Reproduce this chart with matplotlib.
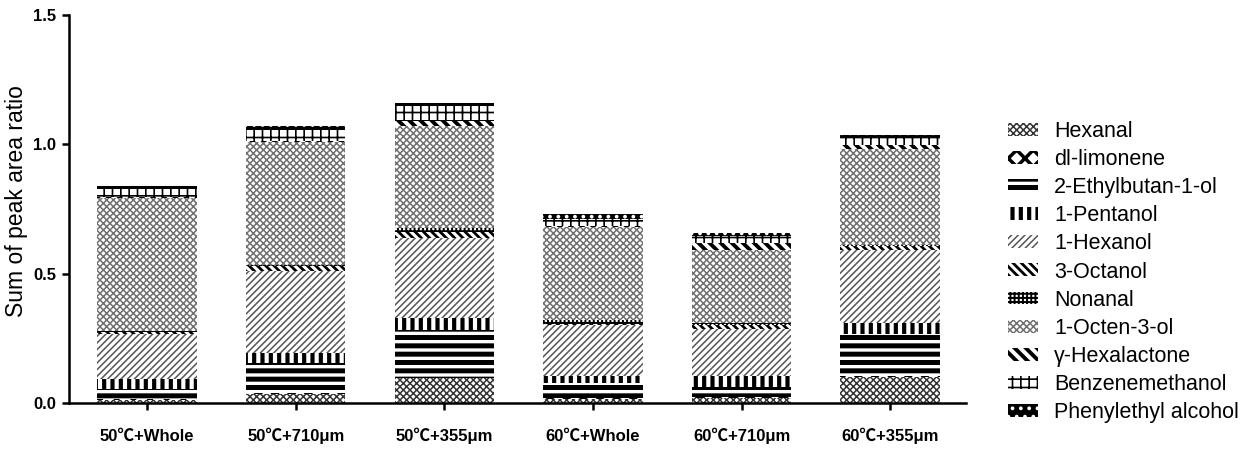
import matplotlib
matplotlib.use("Agg")
import matplotlib.pyplot as plt
import numpy as np

plt.rcParams['font.family'] = ['Liberation Sans', 'Noto Sans CJK SC', 'DejaVu Sans']

groups = ["50℃+Whole", "50℃+710μm", "50℃+355μm", "60℃+Whole", "60℃+710μm", "60℃+355μm"]

compounds = ["Hexanal", "dl-limonene", "2-Ethylbutan-1-ol", "1-Pentanol", "1-Hexanol",
             "3-Octanol", "Nonanal", "1-Octen-3-ol", "γ-Hexalactone", "Benzenemethanol",
             "Phenylethyl alcohol"]

hexanal           = [0.012, 0.035, 0.095, 0.015, 0.020, 0.100]
dl_limonene       = [0.004, 0.005, 0.003, 0.005, 0.005, 0.005]
ethylbutanol      = [0.040, 0.113, 0.183, 0.058, 0.035, 0.163]
pentanol          = [0.035, 0.039, 0.047, 0.027, 0.045, 0.043]
hexanol           = [0.175, 0.319, 0.311, 0.195, 0.183, 0.280]
octanol_3         = [0.008, 0.018, 0.023, 0.006, 0.015, 0.015]
nonanal           = [0.004, 0.005, 0.016, 0.014, 0.005, 0.005]
octen_3_ol        = [0.514, 0.475, 0.393, 0.362, 0.284, 0.370]
hexalactone       = [0.004, 0.004, 0.019, 0.004, 0.027, 0.016]
benzenemethanol   = [0.030, 0.043, 0.058, 0.027, 0.027, 0.027]
phenylethyl       = [0.012, 0.016, 0.012, 0.016, 0.012, 0.012]

series = [hexanal, dl_limonene, ethylbutanol, pentanol, hexanol, octanol_3, nonanal,
          octen_3_ol, hexalactone, benzenemethanol, phenylethyl]

# (facecolor, hatch colour, hatch, hatch linewidth)
styles = [
    ("white", "#333333", "xxxxx", 1.1),
    ("white", "black", "xx", 2.5),
    ("white", "black", "--", 3.6),
    ("white", "black", "||", 3.0),
    ("white", "#555555", "/////", 1.1),
    ("white", "black", "\\\\\\\\", 2.0),
    ("white", "black", "++++", 1.4),
    ("white", "#707070", "xxxxx", 1.1),
    ("white", "black", "\\\\\\", 2.8),
    ("white", "black", "++", 1.2),
    ("black", "white", "..", 1.5),
]

fig = plt.figure(figsize=(12.59, 4.50), dpi=100)
ax = fig.add_axes([0.0548, 0.1044, 0.7125, 0.8623])

x = np.arange(len(groups))
bottom = np.zeros(len(groups))
for name, vals, (fc, hc, hatch, hlw) in zip(compounds, series, styles):
    vals = np.array(vals)
    with plt.rc_context({'hatch.linewidth': hlw}):
        bars = ax.bar(x, vals, width=0.67, bottom=bottom, facecolor=fc,
                      edgecolor=hc, hatch=hatch, linewidth=0, label=name)
    for b in bars:
        if hasattr(b, "set_hatch_linewidth"):
            b.set_hatch_linewidth(hlw)
    bottom += vals

ax.set_xlim(-0.525, 5.51)
ax.set_ylim(0, 1.5)
ax.set_yticks([0.0, 0.5, 1.0, 1.5])
ax.set_yticklabels(["0.0", "0.5", "1.0", "1.5"], fontsize=12, fontweight="bold")
ax.set_xticks(x)
ax.set_xticklabels(groups, fontsize=12, fontweight="bold", va="baseline")
ax.tick_params(axis="y", direction="out", length=5, width=1.8, pad=4)
ax.tick_params(axis="x", direction="out", length=5, width=1.8, pad=22)
for s in ["top", "right"]:
    ax.spines[s].set_visible(False)
for s in ["left", "bottom"]:
    ax.spines[s].set_linewidth(1.8)
ax.set_ylabel("Sum of peak area ratio", fontsize=16.5)
ax.yaxis.set_label_coords(-0.046, 0.52)

leg = fig.legend(loc="upper left", bbox_to_anchor=(1008 / 1259, 1 - 121 / 450), frameon=False,
                 fontsize=15.5, handlelength=1.4, handleheight=0.55,
                 labelspacing=0.33, handletextpad=0.75, borderpad=0, borderaxespad=0)
for h, (fc, hc, hatch, hlw) in zip(leg.legend_handles, styles):
    h.set_linewidth(0)
    if hasattr(h, "set_hatch_linewidth"):
        h.set_hatch_linewidth(hlw)

fig.savefig("out.png", dpi=100)
